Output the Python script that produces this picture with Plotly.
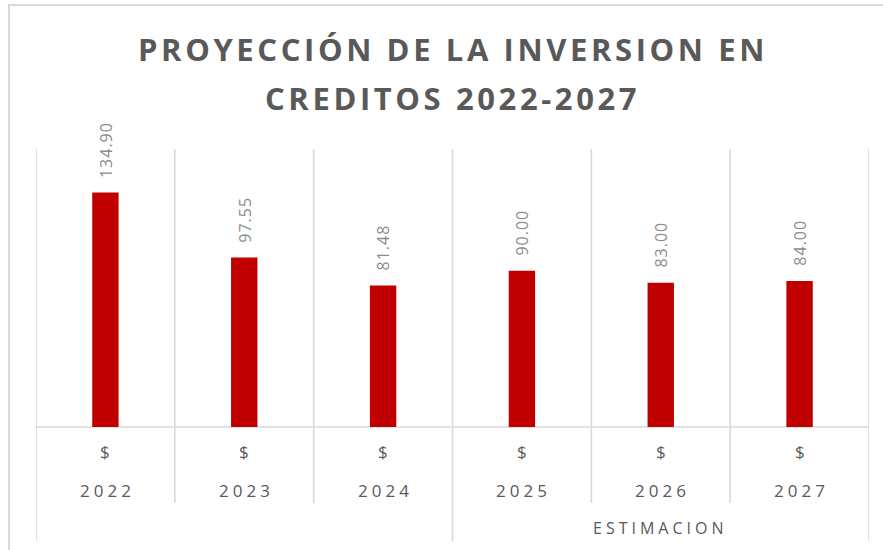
import plotly.graph_objects as go

years = ["2022", "2023", "2024", "2025", "2026", "2027"]
values = [134.90, 97.55, 81.48, 90.00, 83.00, 84.00]
currency = ["$", "$", "$", "$", "$", "$"]
groups = [("", 0, 2), ("ESTIMACION", 3, 5)]
title_lines = ["PROYECCIÓN DE LA INVERSION EN", "CREDITOS 2022-2027"]

BAR = "#C00000"
GRID = "#D9D9D9"
TXT = "#595959"
LBL = "#8C8C8C"
FONT = "Open Sans"

W, H = 883, 550
ml, mr, mt, mb = 36, 14, 149, 123
ph = H - mt - mb

def py(pix):
    return (H - mb - pix) / ph

def px(pix):
    return (pix - ml) / (W - ml - mr)

xs = list(range(len(years)))
fig = go.Figure()
fig.add_trace(go.Bar(x=xs, y=values, marker=dict(color=BAR, line=dict(width=0)),
                     width=0.19, hoverinfo="skip"))

ann = []
# data labels
for x, v in zip(xs, values):
    ann.append(dict(x=x, y=v, xref="x", yref="y", text=f"<span style='letter-spacing:1px'>{v:.2f}</span>",
                    textangle=-90, showarrow=False, yanchor="bottom", xanchor="center",
                    yshift=13, font=dict(family=FONT, size=16, color=LBL)))
# category labels
for x, c, yr in zip(xs, currency, years):
    ann.append(dict(x=x, y=py(452), xref="x", yref="paper", text=c, showarrow=False,
                    xanchor="center", yanchor="middle",
                    font=dict(family=FONT, size=17, color=TXT)))
    ann.append(dict(x=x, y=py(490), xref="x", yref="paper",
                    text=f"<span style='letter-spacing:4px'>{yr}</span>", showarrow=False,
                    xanchor="center", yanchor="middle", xshift=2,
                    font=dict(family=FONT, size=17, color=TXT)))
for name, a, b in groups:
    if name:
        ann.append(dict(x=(a + b) / 2, y=py(528), xref="x", yref="paper",
                        text=f"<span style='letter-spacing:4px'>{name}</span>", showarrow=False,
                        xanchor="center", yanchor="middle", xshift=0,
                        font=dict(family=FONT, size=16, color=TXT)))
# title
for i, (line, ypix) in enumerate(zip(title_lines, [49, 98])):
    ann.append(dict(x=0.5, y=py(ypix), xref="paper", yref="paper",
                    text=f"<b><span style='letter-spacing:3.6px'>{line}</span></b>", showarrow=False,
                    xanchor="center", yanchor="middle",
                    font=dict(family=FONT, size=31, color=TXT)))

shapes = []
# outer chart border
shapes.append(dict(type="rect", xref="paper", yref="paper", x0=px(9), x1=px(892), y0=py(560), y1=py(5),
                   line=dict(color=GRID, width=2), layer="below"))
# vertical gridlines / category dividers
outer_bounds = set()
for name, a, b in groups:
    outer_bounds.add(a - 0.5)
    outer_bounds.add(b + 0.5)
for i in range(len(years) + 1):
    b = i - 0.5
    bottom = py(541) if b in outer_bounds else py(503)
    shapes.append(dict(type="line", xref="x", yref="paper", x0=b, x1=b, y0=bottom, y1=1,
                       line=dict(color=GRID, width=1.6), layer="below"))
# axis line
shapes.append(dict(type="line", xref="paper", yref="paper", x0=0, x1=1, y0=0, y1=0,
                   line=dict(color=GRID, width=1.6), layer="below"))

fig.update_layout(
    width=W, height=H, margin=dict(l=ml, r=mr, t=mt, b=mb),
    paper_bgcolor="white", plot_bgcolor="white", showlegend=False,
    xaxis=dict(range=[-0.5, len(years) - 0.5], showgrid=False, showticklabels=False,
               zeroline=False, showline=False, ticks=""),
    yaxis=dict(range=[0, 160], showgrid=False, showticklabels=False, zeroline=False,
               showline=False, ticks=""),
    annotations=ann, shapes=shapes,
)
fig.write_html("out.html", config={"displayModeBar": False},
               post_script="document.body.style.margin='0px';document.body.style.overflow='hidden';")
